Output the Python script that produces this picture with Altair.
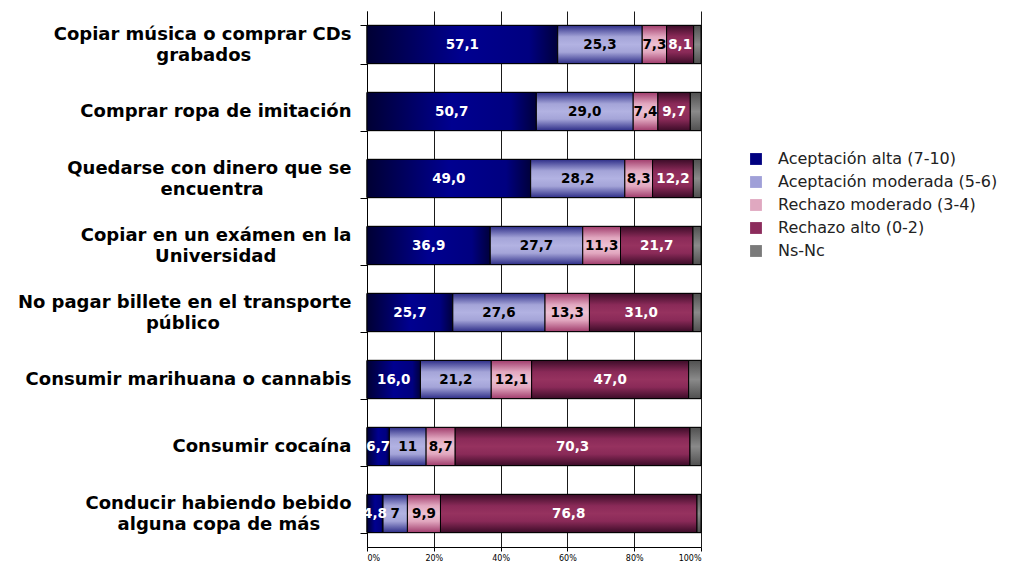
import altair as alt
import pandas as pd

NB = "\u00a0"
ZW = "\u200b"
categorias = [
    "Copiar música o comprar CDs|" + ZW + "|grabados" + NB * 16 + ZW,
    ZW + "|Comprar ropa de imitación",
    "Quedarse con dinero que se|" + ZW + "|encuentra" + NB * 14 + ZW,
    "Copiar en un exámen en la|" + ZW + "|Universidad" + NB * 12 + ZW,
    "No pagar billete en el transporte|" + ZW + "|público" + NB * 21 + ZW,
    ZW + "|Consumir marihuana o cannabis",
    ZW + "|Consumir cocaína",
    "Conducir habiendo bebido|" + ZW + "|alguna copa de más" + NB * 5 + ZW,
]
series = [
    "Aceptación alta (7-10)",
    "Aceptación moderada (5-6)",
    "Rechazo moderado (3-4)",
    "Rechazo alto (0-2)",
    "Ns-Nc",
]
alta = [57.1, 50.7, 49.0, 36.9, 25.7, 16.0, 6.7, 4.8]
moderada = [25.3, 29.0, 28.2, 27.7, 27.6, 21.2, 11.0, 7.3]
rechazo_moderado = [7.3, 7.4, 8.3, 11.3, 13.3, 12.1, 8.7, 9.9]
rechazo_alto = [8.1, 9.7, 12.2, 21.7, 31.0, 47.0, 70.3, 76.8]
nsnc = [2.2, 3.2, 2.3, 2.4, 2.4, 3.7, 3.3, 1.2]

et_alta = ["57,1", "50,7", "49,0", "36,9", "25,7", "16,0", "6,7", "4,8"]
et_moderada = ["25,3", "29,0", "28,2", "27,7", "27,6", "21,2", "11", "7"]
et_rechazo_moderado = ["7,3", "7,4", "8,3", "11,3", "13,3", "12,1", "8,7", "9,9"]
et_rechazo_alto = ["8,1", "9,7", "12,2", "21,7", "31,0", "47,0", "70,3", "76,8"]
et_nsnc = ["", "", "", "", "", "", "", ""]

colores = ["#000080", "#a0a0d8", "#e0a8c0", "#8c2c5c", "#7a7a7a"]

valores = [alta, moderada, rechazo_moderado, rechazo_alto, nsnc]
etiquetas = [et_alta, et_moderada, et_rechazo_moderado, et_rechazo_alto, et_nsnc]

rows = []
for si, s in enumerate(series):
    for ci, c in enumerate(categorias):
        rows.append({"cat": c, "serie": s, "orden": si,
                     "valor": valores[si][ci], "etiqueta": etiquetas[si][ci]})
df = pd.DataFrame(rows)

def grad_h(stops):
    return alt.LinearGradient(gradient="linear", x1=0, x2=1, y1=0, y2=0,
                              stops=[alt.GradientStop(offset=o, color=c) for o, c in stops])

def grad_v(stops):
    return alt.LinearGradient(gradient="linear", x1=0, x2=0, y1=0, y2=1,
                              stops=[alt.GradientStop(offset=o, color=c) for o, c in stops])

gradientes = [
    grad_h([(0, "#000034"), (0.5, "#000090"), (0.85, "#000080"), (1, "#00003c")]),
    grad_v([(0, "#2e2e88"), (0.3, "#a4a4d8"), (0.5, "#b2b2e2"), (0.7, "#a4a4d8"), (1, "#2e2e88")]),
    grad_v([(0, "#a03c6c"), (0.3, "#e2a8c0"), (0.5, "#ecc0d2"), (0.7, "#e2a8c0"), (1, "#a03c6c")]),
    grad_v([(0, "#3c0c28"), (0.3, "#8a2a58"), (0.5, "#96325f"), (0.7, "#8a2a58"), (1, "#3c0c28")]),
    grad_v([(0, "#505050"), (0.5, "#8a8a8a"), (1, "#505050")]),
]

base = alt.Chart(df).transform_stack(
    stack="valor", groupby=["cat"], as_=["x0", "x1"],
    sort=[alt.SortField("orden", order="ascending")],
)

Y = alt.Y(
    "cat:N", sort=categorias, title=None,
    scale=alt.Scale(paddingInner=0.43, paddingOuter=0.215),
    axis=alt.Axis(
        labelExpr="split(datum.label, '|')",
        labelOffset=-10.5,
        labelFont="DejaVu Sans", labelFontWeight="bold", labelFontSize=18,
        labelColor="black", labelLimit=0, labelLineHeight=10.5, labelPadding=9,
        tickBand="extent", tickSize=7, tickColor="black",
        domainColor="black", grid=False,
    ),
)
X = alt.X(
    "x0:Q", title=None,
    scale=alt.Scale(domain=[0, 100], nice=False),
    axis=alt.Axis(
        values=[0, 20, 40, 60, 80, 100], labelExpr="datum.value + '%'",
        labelFont="DejaVu Sans", labelFontSize=8, labelColor="black",
        tickSize=4, tickColor="black", domainColor="black",
        grid=True, gridColor="#1a1a1a", gridWidth=1, labelPadding=3,
    ),
)

capa_leyenda = base.mark_bar(stroke="black", strokeWidth=1).encode(
    y=Y, x=X, x2="x1:Q",
    color=alt.Color(
        "serie:N", scale=alt.Scale(domain=series, range=colores),
        legend=alt.Legend(
            title=None, orient="none", legendX=381, legendY=140,
            symbolType="square", symbolSize=140, symbolStrokeWidth=0,
            labelFont="DejaVu Sans", labelFontSize=16, labelColor="#222222",
            rowPadding=7, labelOffset=14, labelLimit=0,
        ),
    ),
)

capas = [capa_leyenda]
for s, g in zip(series, gradientes):
    capas.append(
        base.transform_filter(alt.datum.serie == s)
        .mark_bar(fill=g, stroke="black", strokeWidth=1)
        .encode(y=Y, x="x0:Q", x2="x1:Q")
    )

blancas = [series[0], series[3]]
negras = [series[1], series[2]]
for grupo, color in [(blancas, "white"), (negras, "black")]:
    capas.append(
        base.transform_filter(alt.FieldOneOfPredicate(field="serie", oneOf=grupo))
        .transform_calculate(mid="(datum.x0 + datum.x1) / 2")
        .mark_text(font="DejaVu Sans", fontWeight="bold", fontSize=13.5, color=color)
        .encode(y=Y, x="mid:Q", text="etiqueta:N")
    )

chart = alt.layer(*capas).properties(
    width=334, height=536,
    autosize=alt.AutoSizeParams(type="none"),
    padding={"left": 359, "top": 3, "right": 309, "bottom": 16},
).configure_view(stroke=None)

chart.save("out.html", embed_options={"renderer": "svg", "actions": False})
